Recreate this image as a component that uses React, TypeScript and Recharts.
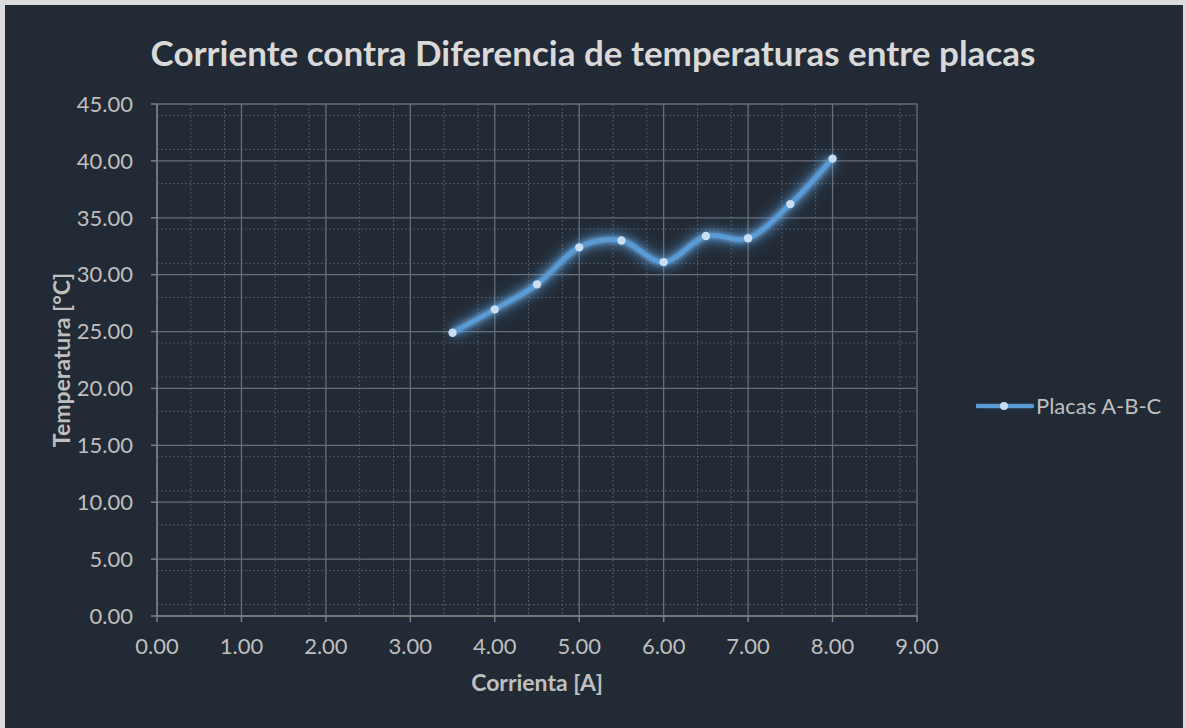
import React from 'react';
import { LineChart, Line, XAxis, YAxis, CartesianGrid, Legend } from 'recharts';

const currentA = [3.5, 4.0, 4.5, 5.0, 5.5, 6.0, 6.5, 7.0, 7.5, 8.0];
const deltaT = [24.9, 26.95, 29.15, 32.4, 33.0, 31.1, 33.4, 33.2, 36.2, 40.2];
const xTicks = [0, 1, 2, 3, 4, 5, 6, 7, 8, 9];
const yTicks = [0, 5, 10, 15, 20, 25, 30, 35, 40, 45];
const seriesName = 'Placas A-B-C';
const titleText = 'Corriente contra Diferencia de temperaturas entre placas';
const xTitle = 'Corrienta [A]';
const yTitle = 'Temperatura [°C]';

const xMinor: number[] = [];
for (let i = 0; i < 45; i++) { if (i % 5 !== 0) xMinor.push(i / 5); }
const yMinor: number[] = [];
for (let i = 0; i < 45; i++) { if (i % 5 !== 0) yMinor.push(i); }

const data = currentA.map((x, i) => ({ x, y: deltaT[i] }));

const FONT = 'Lato, "Open Sans", sans-serif';
const LINE_COLOR = '#5b9bd5';
const DOT_COLOR = '#c9def2';

// Excel-like smoothed line (Catmull-Rom style bezier)
const excelCurve: any = (context: any) => {
  let pts: number[][] = [];
  let line: number = NaN;
  return {
    areaStart() { line = 0; },
    areaEnd() { line = NaN; },
    lineStart() { pts = []; },
    point(x: number, y: number) { pts.push([+x, +y]); },
    lineEnd() {
      const n = pts.length;
      if (n > 0) {
        if (line) context.lineTo(pts[0][0], pts[0][1]);
        else context.moveTo(pts[0][0], pts[0][1]);
        for (let i = 0; i < n - 1; i++) {
          const p0 = pts[Math.max(i - 1, 0)];
          const p1 = pts[i];
          const p2 = pts[i + 1];
          const p3 = pts[Math.min(i + 2, n - 1)];
          const c1x = p1[0] + (p2[0] - p0[0]) / 6;
          const c1y = p1[1] + (p2[1] - p0[1]) / 6;
          const c2x = p2[0] - (p3[0] - p1[0]) / 6;
          const c2y = p2[1] - (p3[1] - p1[1]) / 6;
          context.bezierCurveTo(c1x, c1y, c2x, c2y, p2[0], p2[1]);
        }
      }
      line = 1 - line;
    },
  };
};

const LegendContent = () => (
  <div style={{ display: 'flex', alignItems: 'center' }}>
    <svg width={58} height={14}>
      <line x1={1} y1={7} x2={56} y2={7} stroke={LINE_COLOR} strokeWidth={4.5} strokeLinecap="round" />
      <circle cx={28} cy={7} r={4} fill={DOT_COLOR} />
    </svg>
    <span style={{ color: '#bfbfbf', fontSize: 22, fontFamily: FONT, marginLeft: 2 }}>{seriesName}</span>
  </div>
);

export default function App() {
  return (
    <div style={{ position: 'relative', width: 1186, height: 728, background: '#dcdcdc', fontFamily: FONT }}>
      <style>{`
        body { margin: 0; }
        .recharts-line .recharts-line-curve { filter: drop-shadow(0 0 2px rgba(110,170,230,1)) drop-shadow(0 0 5px rgba(91,155,213,0.9)) drop-shadow(0 0 8px rgba(91,155,213,0.5)); }
        .recharts-line .recharts-line-dots { filter: drop-shadow(0 0 3px rgba(120,180,235,1)) drop-shadow(0 0 7px rgba(91,155,213,0.9)); }
      `}</style>
      <div style={{ position: 'absolute', left: 5, top: 5, width: 1178, height: 723, background: '#222a35' }} />
      <div style={{ position: 'absolute', left: 0, top: 31, width: 1186, textAlign: 'center', color: '#d9d9d9', fontWeight: 700, fontSize: 35, lineHeight: '42px' }}>
        {titleText}
      </div>
      <div style={{ position: 'absolute', left: 0, top: 0 }}>
        <LineChart width={1186} height={728} data={data} margin={{ top: 104, right: 269, bottom: 22, left: 47 }} style={{ fontFamily: FONT }}>
          <CartesianGrid stroke="#535b66" strokeDasharray="2 2" horizontalValues={yMinor} verticalValues={xMinor} />
          <CartesianGrid stroke="#6a6f77" strokeWidth={1.3} />
          <XAxis
            dataKey="x"
            type="number"
            domain={[0, 9]}
            ticks={xTicks}
            tickFormatter={(v: number) => v.toFixed(2)}
            tick={{ fill: '#bfbfbf', fontSize: 22 }}
            tickSize={6}
            tickMargin={16}
            stroke="#7f7f7f"
            strokeWidth={1.5}
            height={90}
            label={{ value: xTitle, position: 'insideBottom', offset: 15, style: { fill: '#bfbfbf', fontWeight: 700, fontSize: 23 } }}
          />
          <YAxis
            type="number"
            domain={[0, 45]}
            ticks={yTicks}
            tickFormatter={(v: number) => v.toFixed(2)}
            tick={{ fill: '#bfbfbf', fontSize: 22 }}
            tickSize={6}
            tickMargin={18}
            stroke="#7f7f7f"
            strokeWidth={1.5}
            width={110}
            label={{ value: yTitle, angle: -90, position: 'insideLeft', offset: 15, style: { textAnchor: 'middle', fill: '#bfbfbf', fontWeight: 700, fontSize: 23 } }}
          />
          <Legend
            layout="horizontal"
            align="center"
            verticalAlign="middle"
            wrapperStyle={{ left: 976, top: 392, width: 210 }}
            content={<LegendContent />}
          />
          <Line
            dataKey="y"
            name={seriesName}
            type={excelCurve}
            stroke={LINE_COLOR}
            strokeWidth={4.5}
            dot={{ r: 4.2, fill: DOT_COLOR, stroke: 'none' }}
            activeDot={false}
            isAnimationActive={false}
          />
        </LineChart>
      </div>
    </div>
  );
}
